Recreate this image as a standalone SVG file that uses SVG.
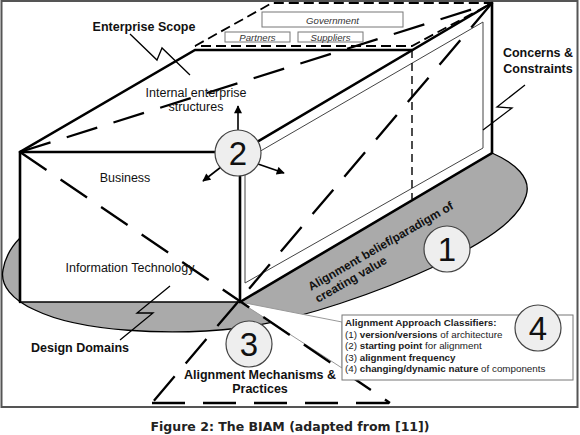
<svg xmlns="http://www.w3.org/2000/svg" width="580" height="435" viewBox="0 0 580 435">
<defs>
<marker id="ah" viewBox="0 0 10 10" refX="9" refY="5" markerWidth="9" markerHeight="8" markerUnits="userSpaceOnUse" orient="auto"><path d="M0,0 L10,5 L0,10 z" fill="#000"/></marker>
</defs>
<style>
.thick{stroke:#000;stroke-width:2.6;fill:none;stroke-linecap:round}
.med{stroke:#000;stroke-width:1.4;fill:none}
.thin{stroke:#444;stroke-width:1;fill:none}
.lead{stroke:#999;stroke-width:1;fill:#fff}
.dash{stroke:#000;stroke-width:2.3;fill:none;stroke-dasharray:32 17}
.sdash{stroke:#000;stroke-width:1.4;fill:none;stroke-dasharray:8 5}
.tdash{stroke:#000;stroke-width:1.8;fill:none;stroke-dasharray:10 5}
.zig{stroke:#000;stroke-width:1.3;fill:none}
.arr{stroke:#000;stroke-width:1.6;fill:none;marker-end:url(#ah)}
.lbl{font-family:"Liberation Sans",Arial,sans-serif;font-size:12.5px;fill:#111}
.b{font-weight:bold}
.mid{text-anchor:middle}
.small{font-family:"Liberation Sans",Arial,sans-serif;font-size:9.6px;font-style:italic;fill:#333;text-anchor:middle}
.cls{font-family:"Liberation Sans",Arial,sans-serif;font-size:9.8px;fill:#222}
.num{font-family:"Liberation Sans",Arial,sans-serif;font-size:33px;fill:#111;text-anchor:middle}
.circ{fill:#eee;stroke:#444;stroke-width:1.2}
.box{fill:#fff;stroke:#777;stroke-width:1}
.cap{font-family:"DejaVu Sans",Verdana,sans-serif;font-size:12.5px;font-weight:bold;fill:#222;text-anchor:middle}
</style>
<rect x="1.5" y="1" width="576" height="406" fill="#fff" stroke="#555" stroke-width="2"/>

<g id="ground">
<path d="M492,153 C515,163 532,178 526,196 C518,222 480,244 440,264 C380,292 300,320 240,328 C170,336 80,332 35,310 C12,300 0,285 3,270 C5,258 12,246 20,238 L240,238 L492,153 Z" fill="#aaa" stroke="#000" stroke-width="1.3"/>
</g>

<g id="faces">
<polygon points="20,152 240,152 240,302 20,302" fill="#fff"/>
<polygon points="240,152 492,3 492,153 240,302" fill="#fff"/>
<polygon points="240,302 342,322 342,368" class="lead"/>
</g>

<g id="connectors">
<!-- dashed top outer plane -->
<polyline points="195,46 272,3 492,3 412,46 195,46" class="tdash"/>
<!-- solid box edges -->
<polyline points="20,302 20,152 195,50 412,50" class="thick"/>
<line x1="20" y1="152" x2="240" y2="152" class="thick"/>
<line x1="240" y1="152" x2="492" y2="3" class="thick"/>
<line x1="240" y1="152" x2="240" y2="302" class="thick"/>
<line x1="20" y1="302" x2="240" y2="302" class="med"/>
<polyline points="492,3 492,153 240,302" class="thick"/>
<!-- thin inner frame -->
<polygon points="245,160 483,22 483,148 245,283" class="thin"/>
<!-- hidden edge -->
<line x1="412" y1="50" x2="412" y2="199" class="sdash"/>
<!-- dashed diagonals -->
<line x1="20" y1="152" x2="492" y2="3" class="dash"/>
<line x1="20" y1="152" x2="390" y2="403" class="dash"/>
<line x1="492" y1="3" x2="152" y2="403" class="dash"/>
<line x1="152" y1="403" x2="390" y2="403" class="dash" style="stroke-dasharray:33 18"/>
<!-- arrows from 2 -->
<line x1="238" y1="130" x2="238" y2="106" class="arr"/>
<line x1="221" y1="167" x2="203" y2="181" class="arr"/>
<line x1="258" y1="164" x2="284" y2="173" class="arr"/>
<!-- zigzag leaders -->
<polyline points="130,34 157,60 162,48 190,75" class="zig"/>
<polyline points="525,85 497,107 512,108 483,130" class="zig"/>
<polyline points="170,286 137,313 153,313 120,340" class="zig"/>
</g>

<g id="external">
<rect x="262" y="12" width="141" height="15" class="box"/>
<text x="332.5" y="23.5" class="small">Government</text>
<rect x="225" y="32" width="65" height="10" class="box"/>
<text x="257.5" y="40.5" class="small">Partners</text>
<rect x="298" y="32" width="65" height="10" class="box"/>
<text x="330.5" y="40.5" class="small">Suppliers</text>
</g>

<g id="labels">
<text x="144" y="31" class="lbl b mid">Enterprise Scope</text>
<text x="196" y="97" class="lbl mid">Internal enterprise</text>
<text x="196" y="111" class="lbl mid">structures</text>
<text x="538" y="57" class="lbl b mid">Concerns &amp;</text>
<text x="538" y="73" class="lbl b mid">Constraints</text>
<text x="125" y="182" class="lbl mid">Business</text>
<text x="130" y="272" class="lbl mid">Information Technology</text>
<text x="80" y="352" class="lbl b mid">Design Domains</text>
<text x="260" y="379" class="lbl b mid">Alignment Mechanisms &amp;</text>
<text x="260" y="393" class="lbl b mid">Practices</text>
<g transform="translate(311,291) rotate(-30)">
<text x="0" y="0" class="lbl b" style="font-size:12px">Alignment belief/paradigm of</text>
<text x="0" y="14" class="lbl b" style="font-size:12px">creating value</text>
</g>
</g>

<g id="classifiers">
<rect x="342" y="315" width="231" height="65" class="box" stroke="#888"/>
<text x="345" y="326" class="cls b">Alignment Approach Classifiers:</text>
<text x="345" y="337.5" class="cls">(1) <tspan font-weight="bold">version/versions</tspan> of architecture</text>
<text x="345" y="349" class="cls">(2) <tspan font-weight="bold">starting point</tspan> for alignment</text>
<text x="345" y="360.5" class="cls">(3) <tspan font-weight="bold">alignment frequency</tspan></text>
<text x="345" y="372" class="cls">(4) <tspan font-weight="bold">changing/dynamic nature</tspan> of components</text>
</g>

<g id="n1"><circle cx="447" cy="249" r="23" class="circ"/><text x="447" y="261" class="num">1</text></g>
<g id="n2"><circle cx="238" cy="153" r="23" class="circ"/><text x="238" y="165" class="num">2</text></g>
<g id="n3"><circle cx="249" cy="344" r="23" class="circ"/><text x="249" y="356" class="num">3</text></g>
<g id="n4"><circle cx="538" cy="328" r="23" class="circ"/><text x="538" y="340" class="num">4</text></g>

<text x="290" y="431" class="cap">Figure 2: The BIAM (adapted from [11])</text>
</svg>
